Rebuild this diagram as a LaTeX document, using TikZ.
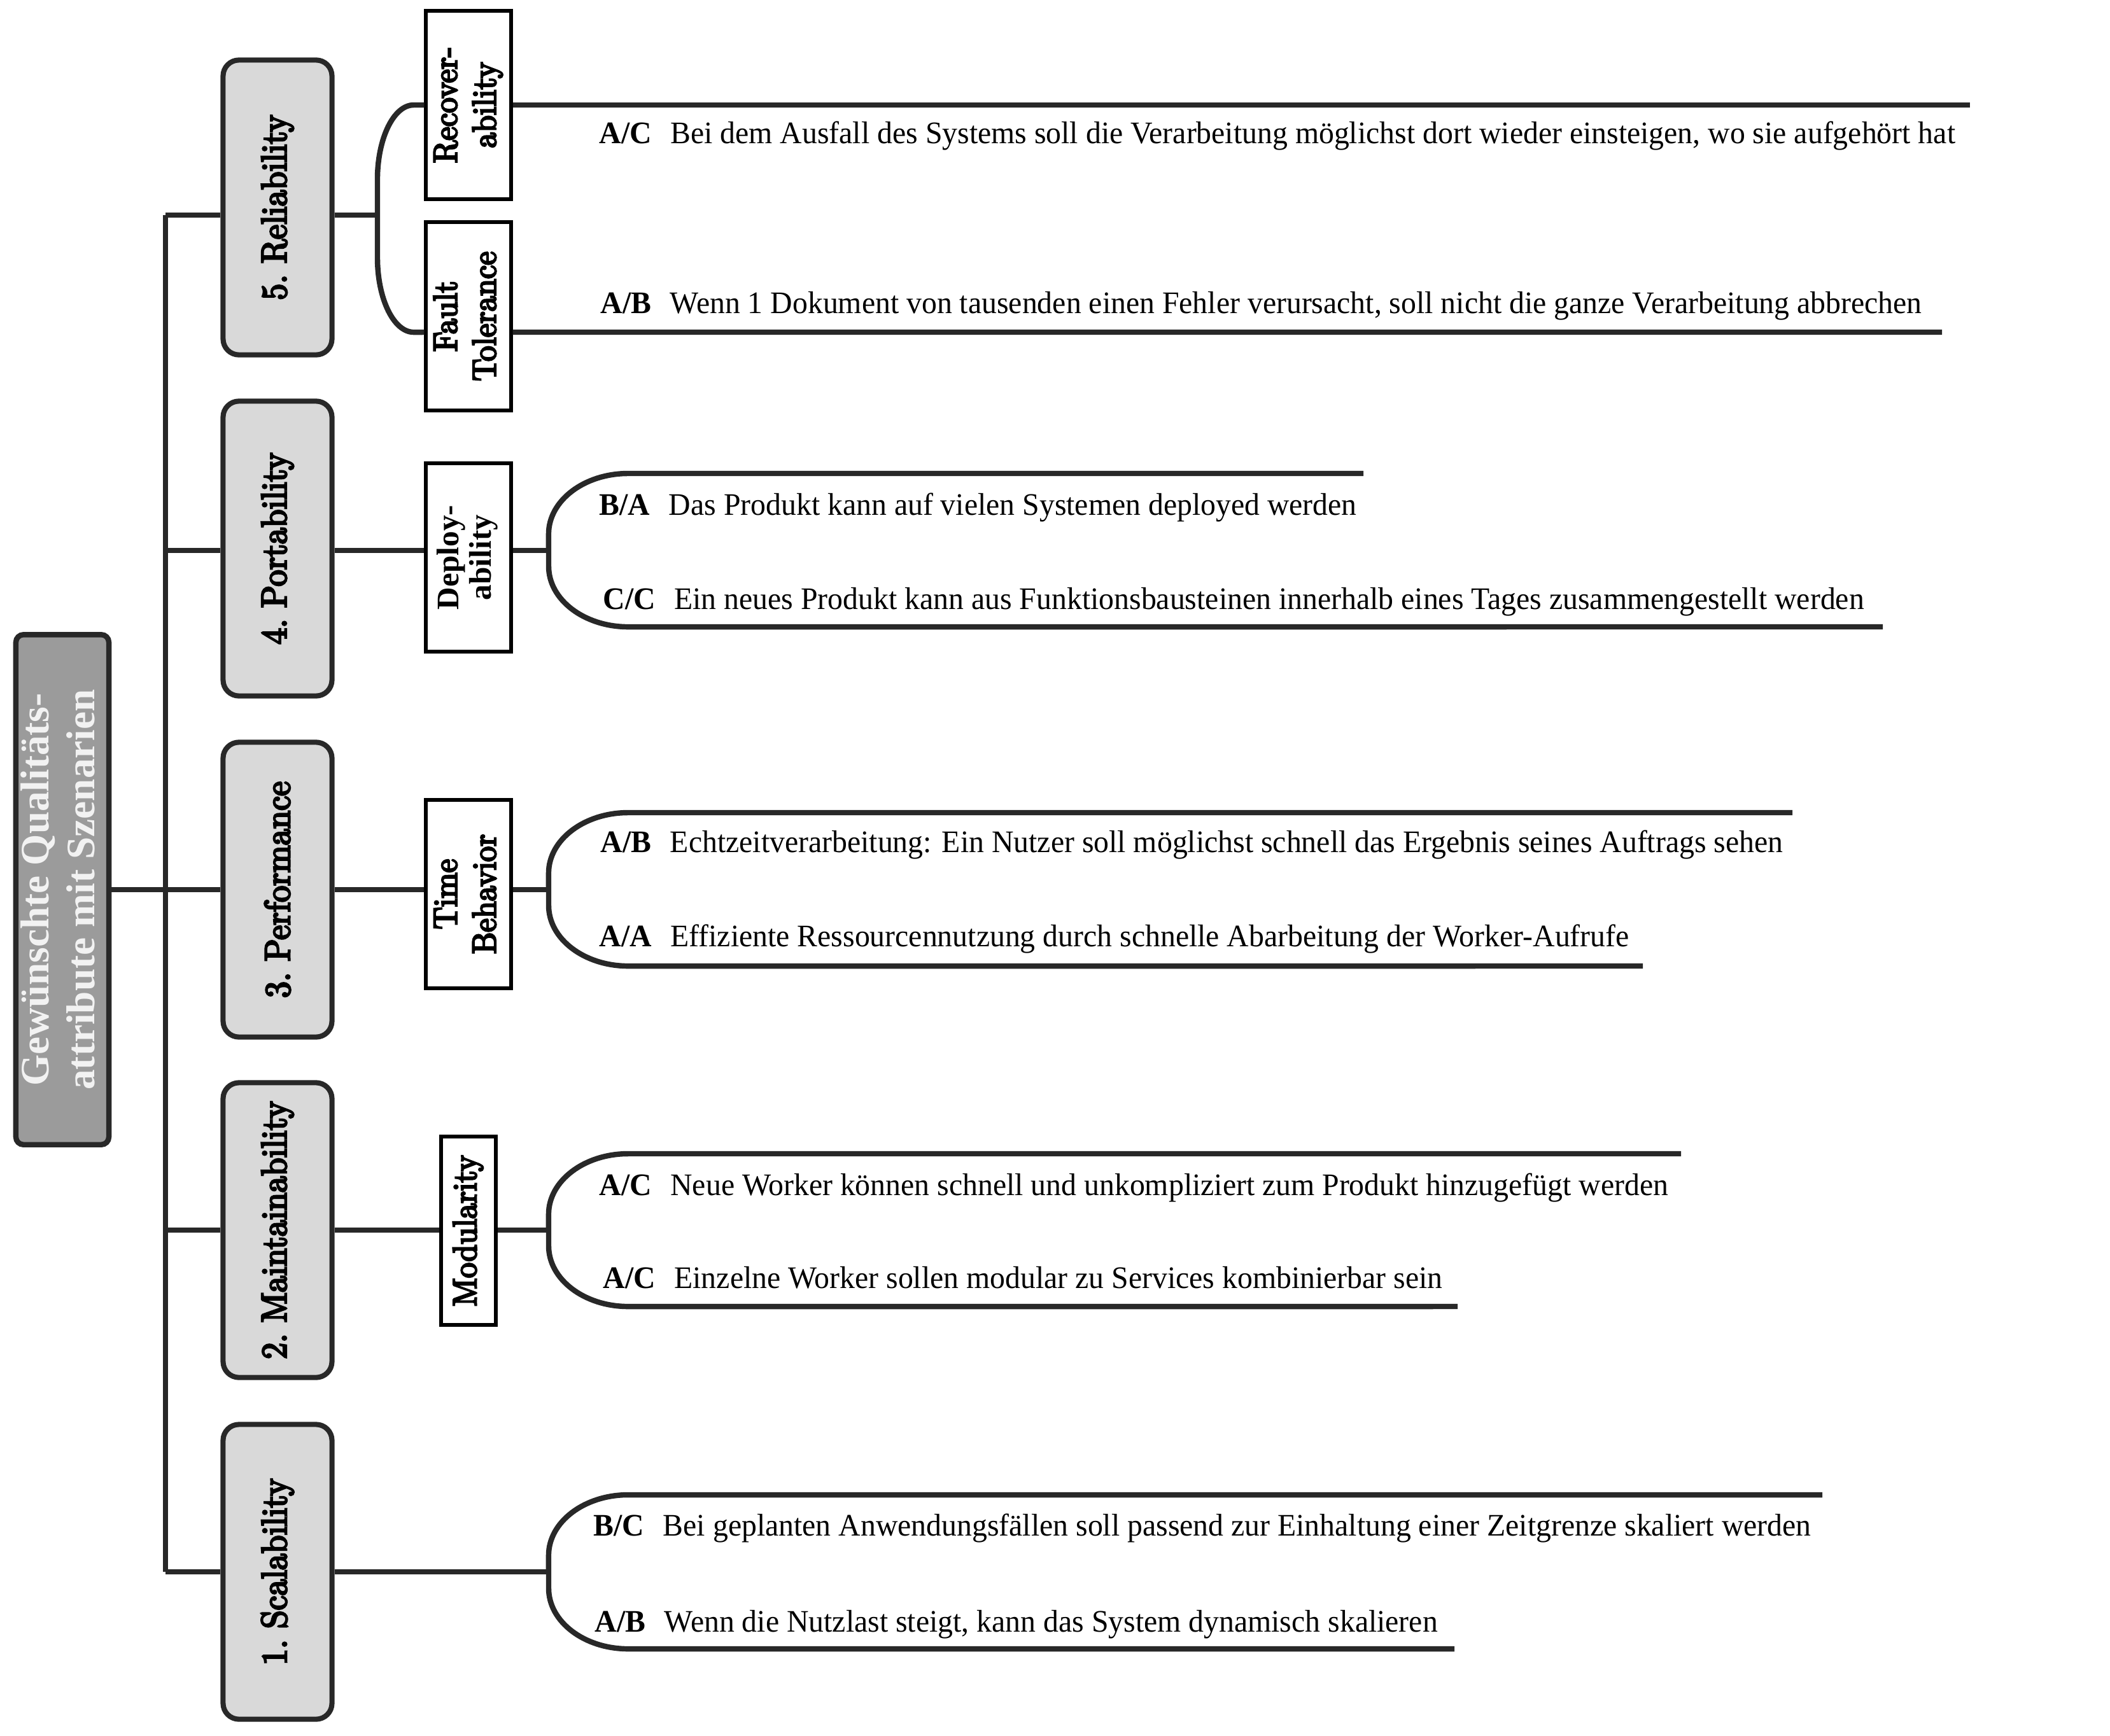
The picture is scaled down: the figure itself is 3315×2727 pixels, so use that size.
\documentclass[tikz,border=0pt]{standalone}
\usepackage{fontspec}
\usepackage{graphicx}
\newfontfamily\tnr{Liberation Serif}[FakeStretch=0.97]
\newfontfamily\tnrplain{Liberation Serif}
\newfontfamily\lmbx{lmroman10-regular.otf}[FakeBold=5, FakeStretch=0.92]
\definecolor{ln}{HTML}{282828}
\definecolor{rootgray}{HTML}{9B9B9B}
\definecolor{catgray}{HTML}{D9D9D9}
\definecolor{roottext}{HTML}{F2F2F2}
\tikzset{
  conn/.style={draw=ln, line width=2.4pt},
  rootbox/.style={draw=ln, line width=2.4pt, fill=rootgray, rounded corners=0.12cm,
    minimum width=1.46cm, minimum height=8.01cm, inner sep=0pt, text=roottext},
  catbox/.style={draw=ln, line width=2.3pt, fill=catgray, rounded corners=0.25cm,
    minimum width=1.71cm, minimum height=4.63cm, inner sep=0pt},
  subbox/.style={draw=black, line width=1.7pt, fill=white,
    minimum width=1.33cm, minimum height=2.95cm, inner sep=0pt},
  scen/.style={anchor=base west, inner sep=0pt, font=\tnr\fontsize{14}{16}\selectfont}
}
\newcommand\catlabel[1]{\rotatebox{90}{\lmbx\fontsize{16}{19}\selectfont\frenchspacing #1}}
\newcommand\sublabel[1]{\rotatebox{90}{\lmbx\fontsize{15}{17.4}\selectfont\begin{tabular}{@{}c@{}}#1\end{tabular}}}
\newcommand\scbr[5]{%
  \draw[conn] (#4,#2) -- ({#1+125},#2)
    arc[start angle=90,end angle=180,x radius=1.25cm,y radius=0.95cm]
    -- (#1,{#3-95})
    arc[start angle=180,end angle=270,x radius=1.25cm,y radius=0.95cm]
    -- (#5,#3);}
\begin{document}
\begin{tikzpicture}[x=0.01cm,y=-0.01cm]
\useasboundingbox (0,0) rectangle (3315,2727);
% root
\node[rootbox] (root) at (98,1398)
  {\rotatebox{90}{\tnrplain\bfseries\fontsize{18}{20.5}\selectfont\begin{tabular}{@{}c@{}}Gewünschte Qualitäts-\\attribute mit Szenarien\end{tabular}}};
% categories
\node[catbox] (rel) at (436,326) {\catlabel{5. Reliability}};
\node[catbox] (port) at (436,862) {\catlabel{4. Portability}};
\node[catbox] (perf) at (436,1398) {\catlabel{3. Performance}};
\node[catbox] (maint) at (436,1933) {\catlabel{2. Maintainability}};
\node[catbox] (scal) at (436,2470) {\catlabel{1. Scalability}};
% sub categories
\node[subbox] (recov) at (736,165) {\sublabel{Recover-\\ability}};
\node[subbox] (fault) at (736,497) {\sublabel{Fault\\Tolerance}};
\node[subbox] (deploy) at (736,876)
  {\rotatebox{90}{\tnrplain\bfseries\fontsize{14}{14.5}\selectfont\begin{tabular}{@{}c@{}}Deploy-\\ability\end{tabular}}};
\node[subbox] (time) at (736,1405) {\sublabel{Time\\Behavior}};
\node[subbox, minimum width=0.85cm] (mod) at (736,1934) {\sublabel{Modularity}};
% helper coordinates
\coordinate (tr) at (260,0);
\coordinate (bx) at (862,0);
\coordinate (relj) at (436,338);
\coordinate (portj) at (436,865);
% trunk
\draw[conn] (relj -| tr) -- (scal.west -| tr);
\draw[conn] (root.east) -- (perf.west);
\draw[conn] (relj -| tr) -- (relj -| rel.west);
\draw[conn] (portj -| tr) -- (portj -| port.west);
\foreach \n in {maint,scal} \draw[conn] (\n.west -| tr) -- (\n.west);
% reliability bracket
\draw[conn] (relj -| rel.east) -- (593,338);
\draw[conn] (recov.west) -- (650,165)
  arc[start angle=90,end angle=180,x radius=0.57cm,y radius=1.17cm]
  -- (593,405)
  arc[start angle=180,end angle=270,x radius=0.57cm,y radius=1.17cm]
  -- ([yshift=-0.25cm]fault.west);
\draw[conn] (recov.east) -- (3095,165);
\draw[conn] ([yshift=-0.25cm]fault.east) -- (3051,522);
% portability
\draw[conn] (portj -| port.east) -- (portj -| deploy.west);
\draw[conn] (portj -| deploy.east) -- (portj -| bx);
\scbr{862}{744}{985}{2142}{2958}
% performance
\draw[conn] (perf.east) -- (perf.east -| time.west);
\draw[conn] (time.east |- perf.east) -- (perf.east -| bx);
\scbr{862}{1277}{1518}{2816}{2581}
% maintainability
\draw[conn] (maint.east) -- (maint.east -| mod.west);
\draw[conn] (mod.east |- maint.east) -- (maint.east -| bx);
\scbr{862}{1813}{2053}{2641}{2290}
% scalability
\draw[conn] (scal.east) -- (scal.east -| bx);
\scbr{862}{2349}{2591}{2863}{2285}
% scenarios
\node[scen] (s1) at (941,225) {\textbf{A/C}\hspace{0.6em}Bei dem Ausfall des Systems soll die Verarbeitung möglichst dort wieder einsteigen, wo sie aufgehört hat};
\node[scen] (s2) at (943,492) {\textbf{A/B}\hspace{0.6em}Wenn 1 Dokument von tausenden einen Fehler verursacht, soll nicht die ganze Verarbeitung abbrechen};
\node[scen] (s3) at (941,809) {\textbf{B/A}\hspace{0.6em}Das Produkt kann auf vielen Systemen deployed werden};
\node[scen] (s4) at (947,957) {\textbf{C/C}\hspace{0.6em}Ein neues Produkt kann aus Funktionsbausteinen innerhalb eines Tages zusammengestellt werden};
\node[scen] (s5) at (943,1339) {\textbf{A/B}\hspace{0.6em}Echtzeitverarbeitung: Ein Nutzer soll möglichst schnell das Ergebnis seines Auftrags sehen};
\node[scen] (s6) at (941,1487) {\textbf{A/A}\hspace{0.6em}Effiziente Ressourcennutzung durch schnelle Abarbeitung der Worker-Aufrufe};
\node[scen] (s7) at (941,1878) {\textbf{A/C}\hspace{0.6em}Neue Worker können schnell und unkompliziert zum Produkt hinzugefügt werden};
\node[scen] (s8) at (947,2024) {\textbf{A/C}\hspace{0.6em}Einzelne Worker sollen modular zu Services kombinierbar sein};
\node[scen] (s9) at (932,2413) {\textbf{B/C}\hspace{0.6em}Bei geplanten Anwendungsfällen soll passend zur Einhaltung einer Zeitgrenze skaliert werden};
\node[scen] (s10) at (934,2564) {\textbf{A/B}\hspace{0.6em}Wenn die Nutzlast steigt, kann das System dynamisch skalieren};
\end{tikzpicture}
\end{document}
